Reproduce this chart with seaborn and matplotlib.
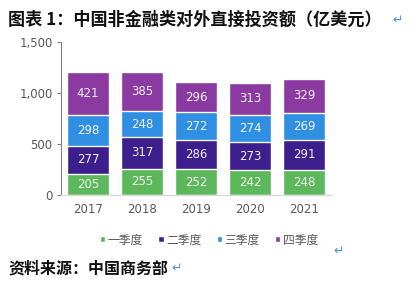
import matplotlib
matplotlib.use("Agg")
import matplotlib.pyplot as plt
import seaborn as sns
import pandas as pd
import numpy as np

years = ["2017", "2018", "2019", "2020", "2021"]
quarters = ["一季度", "二季度", "三季度", "四季度"]
q1 = [205, 255, 252, 242, 248]
q2 = [277, 317, 286, 273, 291]
q3 = [298, 248, 272, 274, 269]
q4 = [421, 385, 296, 313, 329]
colors = ["#5cb85a", "#3c1f8c", "#2f8fe3", "#8a3aa0"]

sns.set_theme(style="white")
plt.rcParams["font.family"] = ["Noto Sans CJK SC", "DejaVu Sans"]

fig = plt.figure(figsize=(4.15, 2.85), dpi=100)
ax = fig.add_axes([61 / 415, 1 - 195 / 285, 270 / 415, 153 / 285])

series = [q1, q2, q3, q4]
cum = np.cumsum(np.array(series), axis=0)
# draw from top segment down so each layer covers the one above's lower part
for i in range(3, -1, -1):
    df = pd.DataFrame({"year": years, "value": cum[i]})
    sns.barplot(data=df, x="year", y="value", color=colors[i], saturation=1,
                width=0.78, ax=ax, label=quarters[i])

# value labels in the middle of each segment
for i, vals in enumerate(series):
    base = cum[i] - np.array(vals)
    for j, v in enumerate(vals):
        ax.text(j, base[j] + v / 2, str(v), ha="center", va="center",
                color="#f2f2f2", fontsize=8.5, family="DejaVu Sans")

ax.set_ylim(0, 1500)
ax.set_xlim(-0.5, 4.5)
ax.set_yticks([0, 500, 1000, 1500])
ax.set_yticklabels(["0", "500", "1,000", "1,500"], family="DejaVu Sans")
ax.set_xlabel("")
ax.set_ylabel("")
ax.tick_params(axis="y", length=3, width=0.8, color="#808080", labelsize=8.5,
               labelcolor="#595959", left=True, pad=3)
ax.tick_params(axis="x", length=0, labelsize=8.5, labelcolor="#595959", pad=6)
for lab in ax.get_xticklabels():
    lab.set_family("DejaVu Sans")
sns.despine(ax=ax)
ax.spines["left"].set_color("#808080")
ax.spines["left"].set_linewidth(0.8)
ax.spines["bottom"].set_color("#d9d9d9")
ax.spines["bottom"].set_linewidth(1.0)

handles, labels = ax.get_legend_handles_labels()
order = [labels.index(q) for q in quarters]
fig.legend([handles[k] for k in order], quarters, loc="center",
           bbox_to_anchor=(209 / 415, 1 - 240 / 285), ncol=4, frameon=False,
           fontsize=8.5, labelcolor="#595959", handlelength=0.45, handleheight=0.45,
           handletextpad=0.2, columnspacing=1.3)
if ax.get_legend():
    ax.get_legend().remove()

fig.text(8 / 415, 1 - 20 / 285, "图表 1：中国非金融类对外直接投资额（亿美元）",
         fontsize=12.3, fontweight="bold", color="#111111", va="center")
fig.text(392 / 415, 1 - 20 / 285, "↵", fontsize=9, color="#4a8fd8", va="center",
         family="DejaVu Sans")
fig.text(8 / 415, 1 - 268 / 285, "资料来源：中国商务部", fontsize=11.5,
         fontweight="bold", color="#111111", va="center")
fig.text(171 / 415, 1 - 268 / 285, "↵", fontsize=9, color="#4a8fd8", va="center",
         family="DejaVu Sans")
fig.text(333 / 415, 1 - 251 / 285, "↵", fontsize=9, color="#4a8fd8", va="center",
         family="DejaVu Sans")

fig.savefig("out.png", dpi=100)
